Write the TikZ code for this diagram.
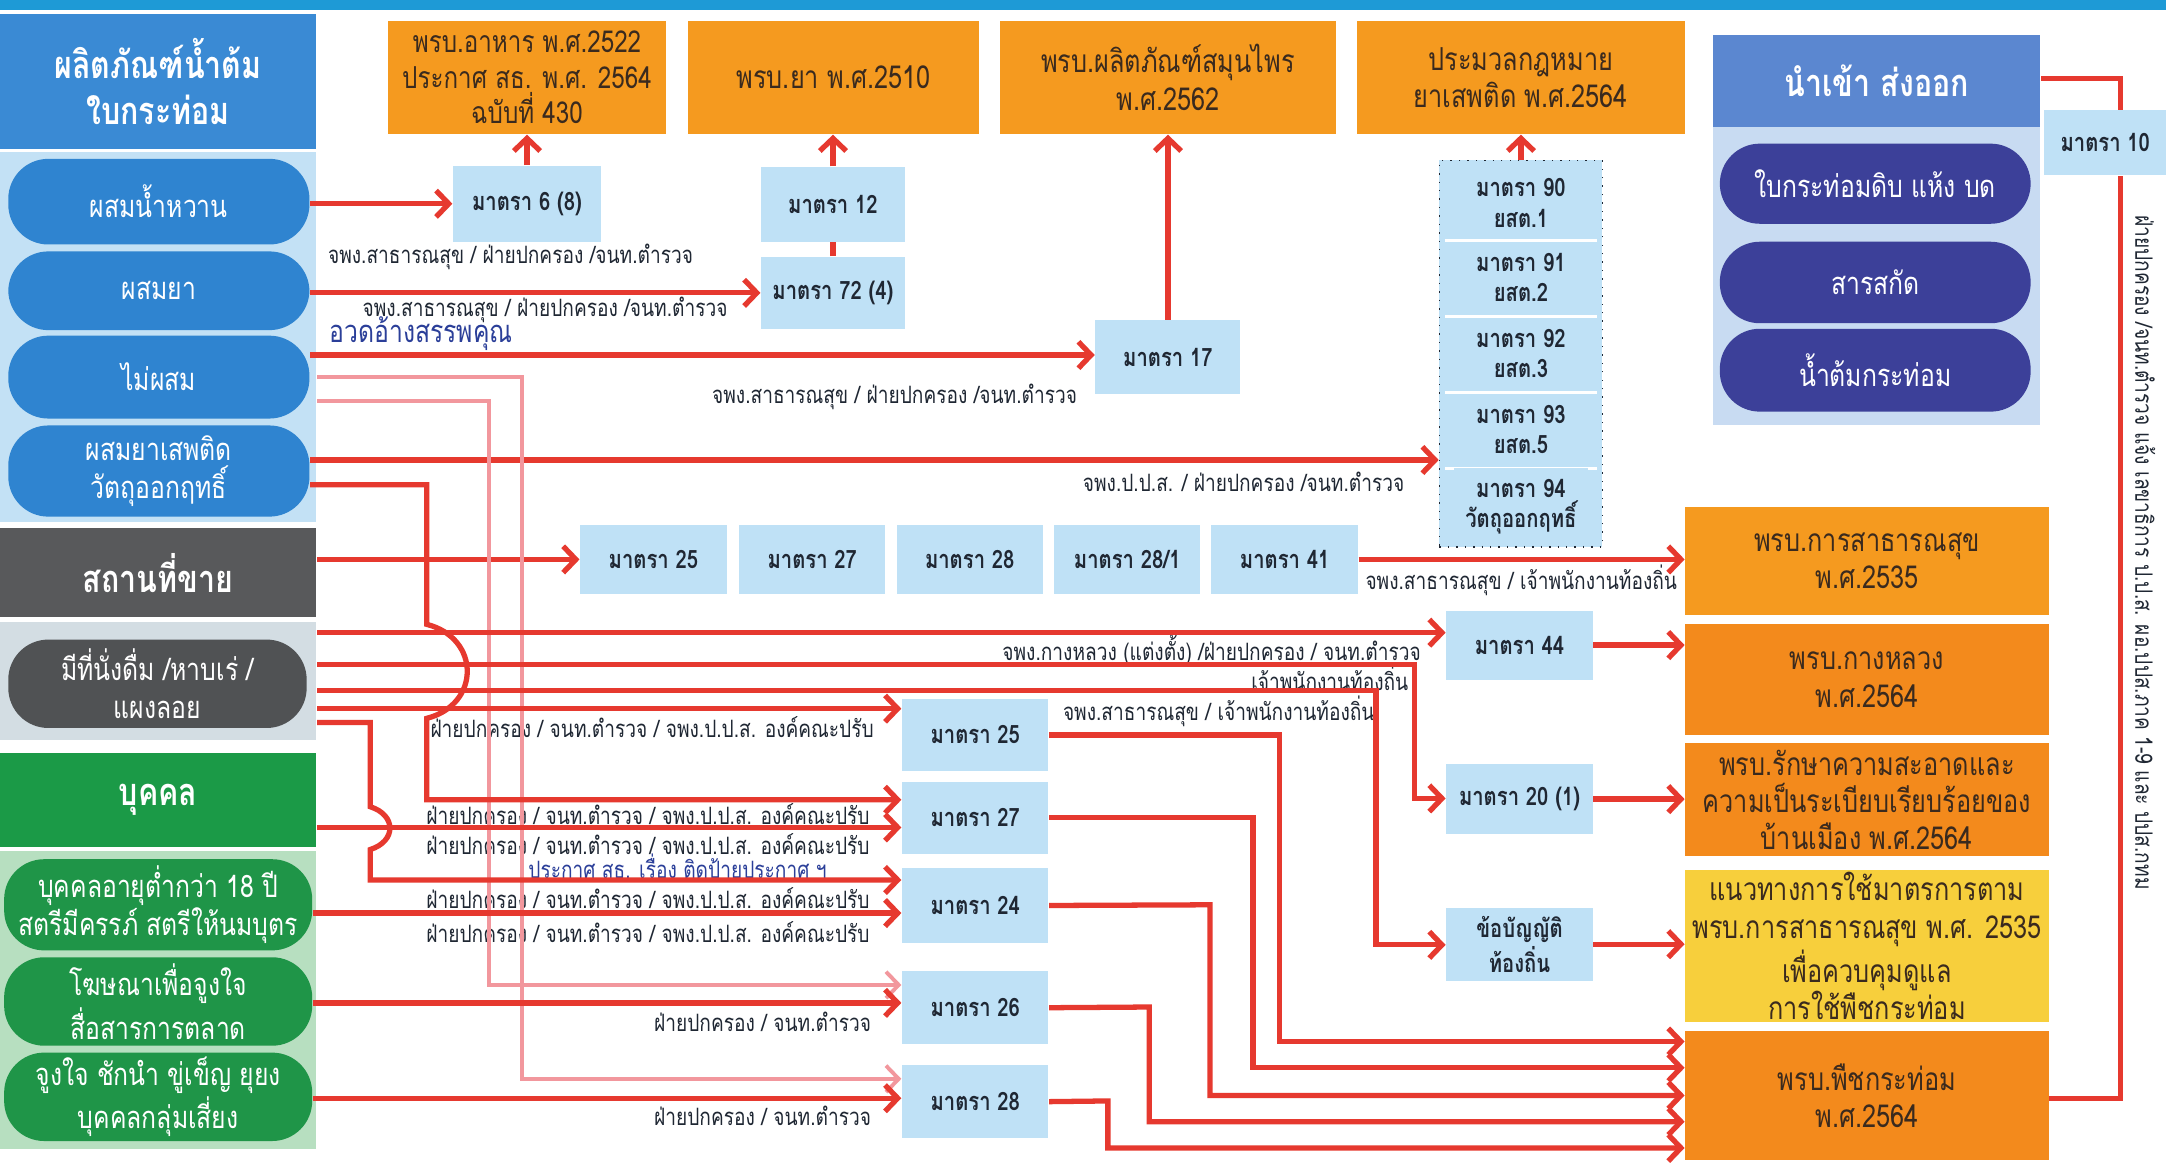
\documentclass[tikz,border=0pt]{standalone}
\usepackage{fontspec}
\setmainfont[Script=Thai,FakeStretch=0.8]{Loma}
\usetikzlibrary{arrows.meta}
\newlength\uu \setlength\uu{0.013814cm}
\definecolor{topband}{HTML}{1E9AD6}
\definecolor{hdrblue}{HTML}{3A8AD4}
\definecolor{bpanel}{HTML}{C3E1F5}
\definecolor{bpill}{HTML}{2F84D0}
\definecolor{greyhdr}{HTML}{58595B}
\definecolor{gpanel}{HTML}{D3DDE3}
\definecolor{gpill}{HTML}{505254}
\definecolor{greenhdr}{HTML}{1B9A47}
\definecolor{grpanel}{HTML}{B7DFC0}
\definecolor{grpill}{HTML}{1F9548}
\definecolor{lawor}{HTML}{F59A1F}
\definecolor{lawdk}{HTML}{F38A1C}
\definecolor{lawyel}{HTML}{F7CF3C}
\definecolor{artblue}{HTML}{BFE1F6}
\definecolor{imphdr}{HTML}{5B87D0}
\definecolor{imppanel}{HTML}{C8DBF2}
\definecolor{imppill}{HTML}{3C4099}
\definecolor{redC}{HTML}{E6392F}
\definecolor{pinkC}{HTML}{F2979D}
\definecolor{txtdark}{HTML}{1F2733}
\definecolor{lawtxt}{HTML}{3A2A1E}
\definecolor{lblblue}{HTML}{2B3F99}
\newcommand\fLbl{\fontsize{6.8}{8.2}\selectfont}
\newcommand\fArt{\fontsize{7.2}{8.6}\selectfont\bfseries}
\newcommand\fLaw{\fontsize{9}{10.6}\selectfont}
\newcommand\fFood{\fontsize{8.6}{10}\selectfont}
\newcommand\fPill{\fontsize{8.8}{10.8}\selectfont}
\newcommand\fHdr{\fontsize{10.8}{13}\selectfont\bfseries}
\newcommand\bx[7]{\node[#6, minimum width={(#4-#2)*\uu}, minimum height={(#5-#3)*\uu}, inner sep=0pt] (#1) at ({(#2+#4)/2},{(#3+#5)/2}) {#7};}
\tikzset{
  hdr/.style={fill=#1, text=white, font=\fHdr, align=center},
  panel/.style={fill=#1},
  pill/.style={fill=#1, rounded corners=0.4cm, text=white, font=\fPill, align=center},
  law/.style={fill=#1, text=lawtxt, font=\fLaw, align=center},
  art/.style={fill=artblue, text=txtdark, font=\fArt, align=center},
  lbl/.style={text=txtdark, font=\fLbl, inner sep=0pt},
  arr/.style={draw=redC, line width=1.5pt, -{Straight Barb[length=3.6pt,width=7.5pt]}},
  ln/.style={draw=redC, line width=1.5pt},
  parr/.style={draw=pinkC, line width=1.1pt, -{Straight Barb[length=3.6pt,width=7.5pt]}},
}
\begin{document}
\begin{tikzpicture}[x=0.013814cm, y=-0.013814cm]
\useasboundingbox (0,0) rectangle (1568,842);
\fill[white] (0,0) rectangle (1568,842);
\fill[topband] (0,0) rectangle (1568,7);
% ---------- left column ----------
\bx{prod}{0}{10}{229}{108}{hdr=hdrblue}{ผลิตภัณฑ์น้ำต้ม\\ใบกระท่อม}
\bx{bpan}{0}{110}{229}{378}{panel=bpanel}{}
\bx{p1}{6}{115}{224}{177}{pill=bpill}{ผสมน้ำหวาน}
\bx{p2}{6}{182}{224}{239}{pill=bpill}{ผสมยา}
\bx{p3}{6}{243}{224}{303}{pill=bpill}{ไม่ผสม}
\bx{p4}{6}{308}{224}{374}{pill=bpill}{ผสมยาเสพติด\\วัตถุออกฤทธิ์}
\bx{sale}{0}{382}{229}{447}{hdr=greyhdr}{สถานที่ขาย}
\bx{gpan}{0}{450}{229}{536}{panel=gpanel}{}
\bx{gp}{6}{463}{222}{527}{pill=gpill}{มีที่นั่งดื่ม /หาบเร่ /\\แผงลอย}
\bx{person}{0}{545}{229}{613}{hdr=greenhdr}{บุคคล}
\bx{grpan}{0}{616}{229}{832}{panel=grpanel}{}
\bx{q1}{3}{622}{226}{688}{pill=grpill}{บุคคลอายุต่ำกว่า 18 ปี\\สตรีมีครรภ์ สตรีให้นมบุตร}
\bx{q2}{3}{693}{226}{757}{pill=grpill}{โฆษณาเพื่อจูงใจ\\สื่อสารการตลาด}
\bx{q3}{3}{762}{226}{826}{pill=grpill}{จูงใจ ชักนำ ขู่เข็ญ ยุยง\\บุคคลกลุ่มเสี่ยง}
% ---------- top laws ----------
\bx{food}{281}{15}{482}{97}{law=lawor, font=\fFood}{พรบ.อาหาร พ.ศ.2522\\ประกาศ สธ. พ.ศ. 2564\\ฉบับที่ 430}
\bx{drug}{498}{15}{709}{97}{law=lawor}{พรบ.ยา พ.ศ.2510}
\bx{herb}{724}{15}{967}{97}{law=lawor}{พรบ.ผลิตภัณฑ์สมุนไพร\\พ.ศ.2562}
\bx{narc}{982}{15}{1220}{97}{law=lawor}{ประมวลกฎหมาย\\ยาเสพติด พ.ศ.2564}
% ---------- import/export ----------
\bx{imp}{1240}{25}{1477}{92}{hdr=imphdr}{นำเข้า ส่งออก}
\bx{ipan}{1240}{92}{1477}{308}{panel=imppanel}{}
\bx{i1}{1245}{104}{1470}{162}{pill=imppill}{ใบกระท่อมดิบ แห้ง บด}
\bx{i2}{1245}{175}{1470}{234}{pill=imppill}{สารสกัด}
\bx{i3}{1245}{238}{1470}{298}{pill=imppill}{น้ำต้มกระท่อม}
\bx{a10}{1480}{80}{1568}{127}{art}{มาตรา 10}
\node[lbl, rotate=-90] (vlbl) at (1553,400) {ฝ่ายปกครอง /จนท.ตำรวจ แจ้ง เลขาธิการ ป.ป.ส. ผอ.ปปส.ภาค 1-9 และ ปปส.กทม};
% ---------- article boxes ----------
\bx{a6}{328}{120}{435}{175}{art}{มาตรา 6 (8)}
\bx{a12}{551}{121}{655}{175}{art}{มาตรา 12}
\bx{a724}{551}{186}{655}{238}{art}{มาตรา 72 (4)}
\bx{a17}{793}{232}{898}{285}{art}{มาตรา 17}
\node[draw=txtdark, dotted, fill=artblue, minimum width=118\uu, minimum height=280\uu, inner sep=0pt] (stack) at (1101,256) {};
\foreach \yy in {174,229,284,339} \draw[white, line width=0.8pt] (1046,\yy) -- (1156,\yy);
\node[art] (s90) at (1101,147) {มาตรา 90\\ยสต.1};
\node[art] (s91) at (1101,201) {มาตรา 91\\ยสต.2};
\node[art] (s92) at (1101,256) {มาตรา 92\\ยสต.3};
\node[art] (s93) at (1101,311) {มาตรา 93\\ยสต.5};
\node[art] (s94) at (1101,367) {มาตรา 94\\วัตถุออกฤทธิ์};
\bx{r25}{420}{380}{526}{430}{art}{มาตรา 25}
\bx{r27}{535}{380}{641}{430}{art}{มาตรา 27}
\bx{r28}{649}{380}{755}{430}{art}{มาตรา 28}
\bx{r281}{763}{380}{869}{430}{art}{มาตรา 28/1}
\bx{r41}{877}{380}{983}{430}{art}{มาตรา 41}
\bx{a44}{1047}{442}{1153}{492}{art}{มาตรา 44}
\bx{a20}{1047}{553}{1153}{604}{art}{มาตรา 20 (1)}
\bx{rule}{1047}{657}{1153}{710}{art}{ข้อบัญญัติ\\ท้องถิ่น}
\bx{m25}{653}{506}{759}{558}{art}{มาตรา 25}
\bx{m27}{653}{566}{759}{618}{art}{มาตรา 27}
\bx{m24}{653}{628}{759}{683}{art}{มาตรา 24}
\bx{m26}{653}{703}{759}{756}{art}{มาตรา 26}
\bx{m28}{653}{771}{759}{824}{art}{มาตรา 28}
% ---------- right laws ----------
\bx{ph}{1220}{367}{1483}{445}{law=lawor}{พรบ.การสาธารณสุข\\พ.ศ.2535}
\bx{klh}{1220}{452}{1483}{532}{law=lawdk}{พรบ.กางหลวง\\พ.ศ.2564}
\bx{clean}{1220}{538}{1483}{620}{law=lawdk}{พรบ.รักษาความสะอาดและ\\ความเป็นระเบียบเรียบร้อยของ\\บ้านเมือง พ.ศ.2564}
\bx{guide}{1220}{630}{1483}{740}{law=lawyel}{แนวทางการใช้มาตรการตาม\\พรบ.การสาธารณสุข พ.ศ. 2535\\เพื่อควบคุมดูแล\\การใช้พืชกระท่อม}
\bx{kr}{1220}{746}{1483}{840}{law=lawdk}{พรบ.พืชกระท่อม\\พ.ศ.2564}
% ---------- labels ----------
\node[lbl, anchor=west] (l1) at (237,186) {จพง.สาธารณสุข / ฝ่ายปกครอง /จนท.ตำรวจ};
\node[lbl, anchor=west] (l2) at (262,224) {จพง.สาธารณสุข / ฝ่ายปกครอง /จนท.ตำรวจ};
\node[lbl, anchor=west, text=lblblue, font=\fontsize{8.8}{10}\selectfont] (l3) at (238,244) {\underline{อวดอ้างสรรพคุณ}};
\node[lbl, anchor=west] (l4) at (515,287) {จพง.สาธารณสุข / ฝ่ายปกครอง /จนท.ตำรวจ};
\node[lbl, anchor=east] (l5) at (1017,349) {จพง.ป.ป.ส. / ฝ่ายปกครอง /จนท.ตำรวจ};
\node[lbl, anchor=west] (l6) at (988,420) {จพง.สาธารณสุข / เจ้าพนักงานท้องถิ่น};
\node[lbl, anchor=east] (l7) at (1029,471) {จพง.กางหลวง (แต่งตั้ง) /ฝ่ายปกครอง / จนท.ตำรวจ};
\node[lbl, anchor=east] (l8) at (1020,491) {เจ้าพนักงานท้องถิ่น};
\node[lbl, anchor=west] (l9) at (769,515) {จพง.สาธารณสุข / เจ้าพนักงานท้องถิ่น};
\node[lbl, anchor=east] (l10) at (633,526) {ฝ่ายปกครอง / จนท.ตำรวจ / จพง.ป.ป.ส. องค์คณะปรับ};
\node[lbl, anchor=east] (l11) at (630,589) {ฝ่ายปกครอง / จนท.ตำรวจ / จพง.ป.ป.ส. องค์คณะปรับ};
\node[lbl, anchor=east] (l12) at (630,611) {ฝ่ายปกครอง / จนท.ตำรวจ / จพง.ป.ป.ส. องค์คณะปรับ};
\node[lbl, anchor=west, text=lblblue] (l13) at (382,627) {ประกาศ สธ. เรื่อง ติดป้ายประกาศ ฯ};
\node[lbl, anchor=east] (l14) at (630,650) {ฝ่ายปกครอง / จนท.ตำรวจ / จพง.ป.ป.ส. องค์คณะปรับ};
\node[lbl, anchor=east] (l15) at (630,675) {ฝ่ายปกครอง / จนท.ตำรวจ / จพง.ป.ป.ส. องค์คณะปรับ};
\node[lbl, anchor=east] (l16) at (631,740) {ฝ่ายปกครอง / จนท.ตำรวจ};
\node[lbl, anchor=east] (l17) at (631,808) {ฝ่ายปกครอง / จนท.ตำรวจ};
% ---------- connectors ----------
\draw[arr] (p1.east |- a6) -- (a6.west);
\draw[arr] (a6.north) -- (a6.north |- food.south);
\draw[arr] (a12.north) -- (a12.north |- drug.south);
\draw[ln] (a724.north) -- (a12.south);
\draw[arr] (p2.east |- a724) -- (a724.west);
\draw[arr] (p3.east |- 0,257) -- (a17.west |- 0,257);
\draw[arr] (a17.north) -- (a17.north |- herb.south);
\draw[arr] (stack.north) -- (stack.north |- narc.south);
\draw[arr] (p4.east |- 0,333) -- (stack.west |- 0,333);
\draw[arr] (sale.east |- r25) -- (r25.west);
\draw[arr] (r41.east) -- (r41.east -| ph.west);
% pink lines
\draw[parr] (bpan.east |- 0,273) -- (378,273) -- (378,781) -- (m28.west |- 0,781);
\draw[parr] (bpan.east |- 0,290) -- (354,290) -- (354,713) -- (m26.west |- 0,713);
% drinking place group
\draw[arr] (gpan.east |- 0,458) -- (a44.west |- 0,458);
\draw[arr] (a44.east) -- (a44.east -| klh.west);
\draw[arr] (gpan.east |- 0,481) -- (1024,481) -- (1024,578) -- (a20.west |- 0,578);
\draw[arr] (a20.east) -- (a20.east -| clean.west);
\draw[arr] (gpan.east |- 0,500) -- (996,500) -- (996,684) -- (rule.west |- 0,684);
\draw[arr] (rule.east) -- (rule.east -| guide.west);
\draw[arr] (gpan.east |- 0,513) -- (m25.west |- 0,513);
\draw[arr] (p4.east |- 0,351) -- (309,351) -- (309,452) .. controls (348,462) and (348,510) .. (309,520) -- (309,579) -- (m27.west |- 0,579);
\draw[arr] (gpan.east |- 0,523) -- (268,523) -- (268,584) .. controls (287,590) and (287,609) .. (268,615) -- (268,637) -- (m24.west |- 0,637);
\draw[arr] (person.east |- 0,599) -- (m27.west |- 0,599);
\draw[arr] (q1.east |- 0,661) -- (m24.west |- 0,661);
\draw[arr] (q2.east |- 0,726) -- (m26.west |- 0,726);
\draw[arr] (q3.east |- 0,795) -- (m28.west |- 0,795);
% to kratom act
\draw[arr] (m25.east) -- (926,532) -- (926,754) -- (kr.west |- 0,754);
\draw[arr] (m27.east) -- (907,592) -- (907,773) -- (kr.west |- 0,773);
\draw[arr] (m24.east) -- (876,655) -- (876,793) -- (kr.west |- 0,793);
\draw[arr] (m26.east) -- (832,729) -- (832,812) -- (kr.west |- 0,812);
\draw[arr] (m28.east) -- (802,797) -- (802,831) -- (kr.west |- 0,831);
% import/export
\draw[ln] (imp.east |- 0,57) -- (1535,57) -- (a10.north -| 1535,0);
\draw[ln] (a10.south -| 1535,0) -- (1535,795) -- (kr.east |- 0,795);
\end{tikzpicture}
\end{document}
